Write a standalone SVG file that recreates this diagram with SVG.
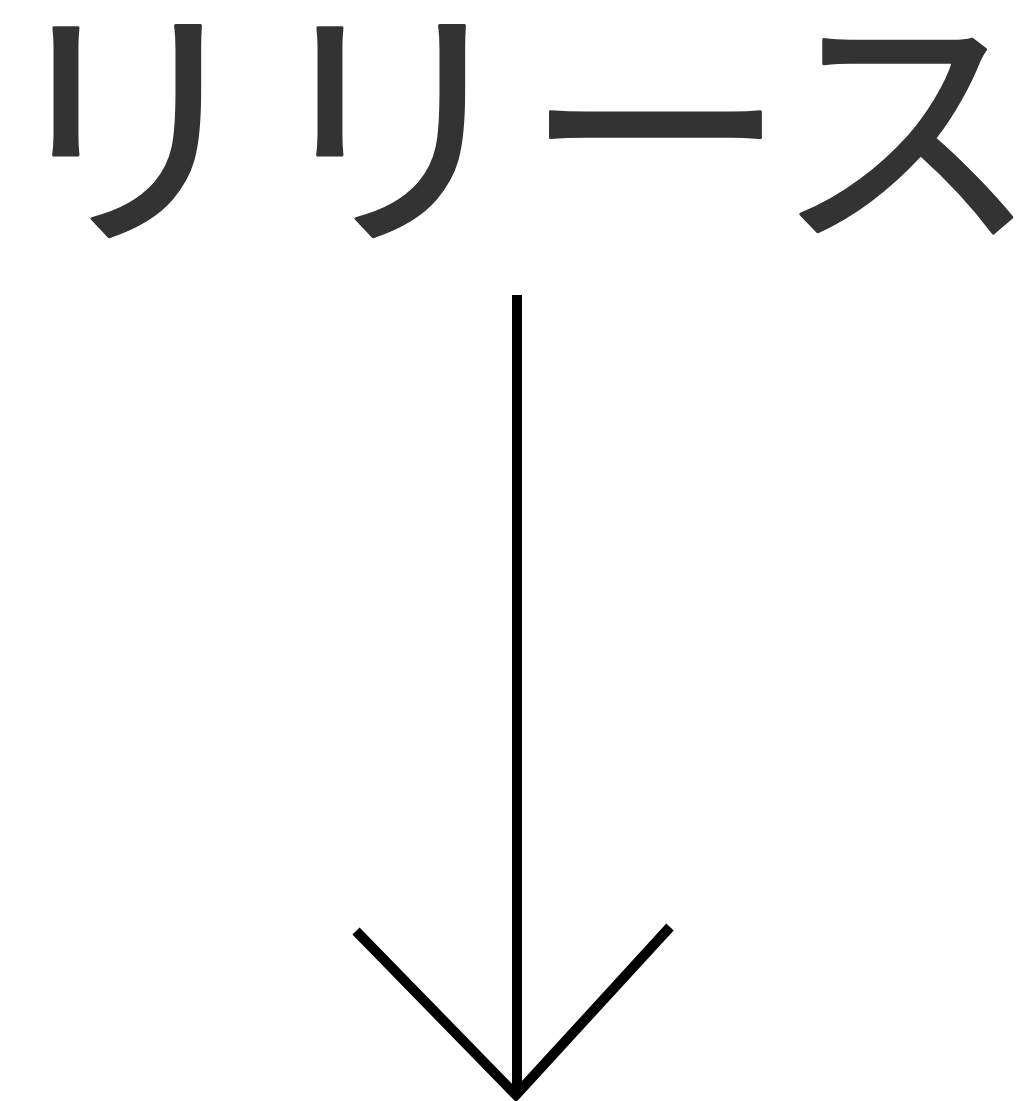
<svg xmlns="http://www.w3.org/2000/svg" width="1034" height="1101" viewBox="0 0 1034 1101">
<style>
.label{font-family:"Noto Sans CJK JP","Noto Sans",sans-serif;font-size:264px;fill:#333333;stroke:#333333;stroke-width:3;stroke-linejoin:round;}
.conn{stroke:#000000;stroke-width:10;fill:none;}
</style>
<rect width="1034" height="1101" fill="#ffffff"/>
<g id="node-release">
<text class="label" x="517" y="226" text-anchor="middle">リリース</text>
</g>
<g id="connectors">
<line class="conn" x1="517" y1="295" x2="517" y2="1095"/>
<polyline class="conn" points="356,931 516,1095 670,927"/>
</g>
</svg>
